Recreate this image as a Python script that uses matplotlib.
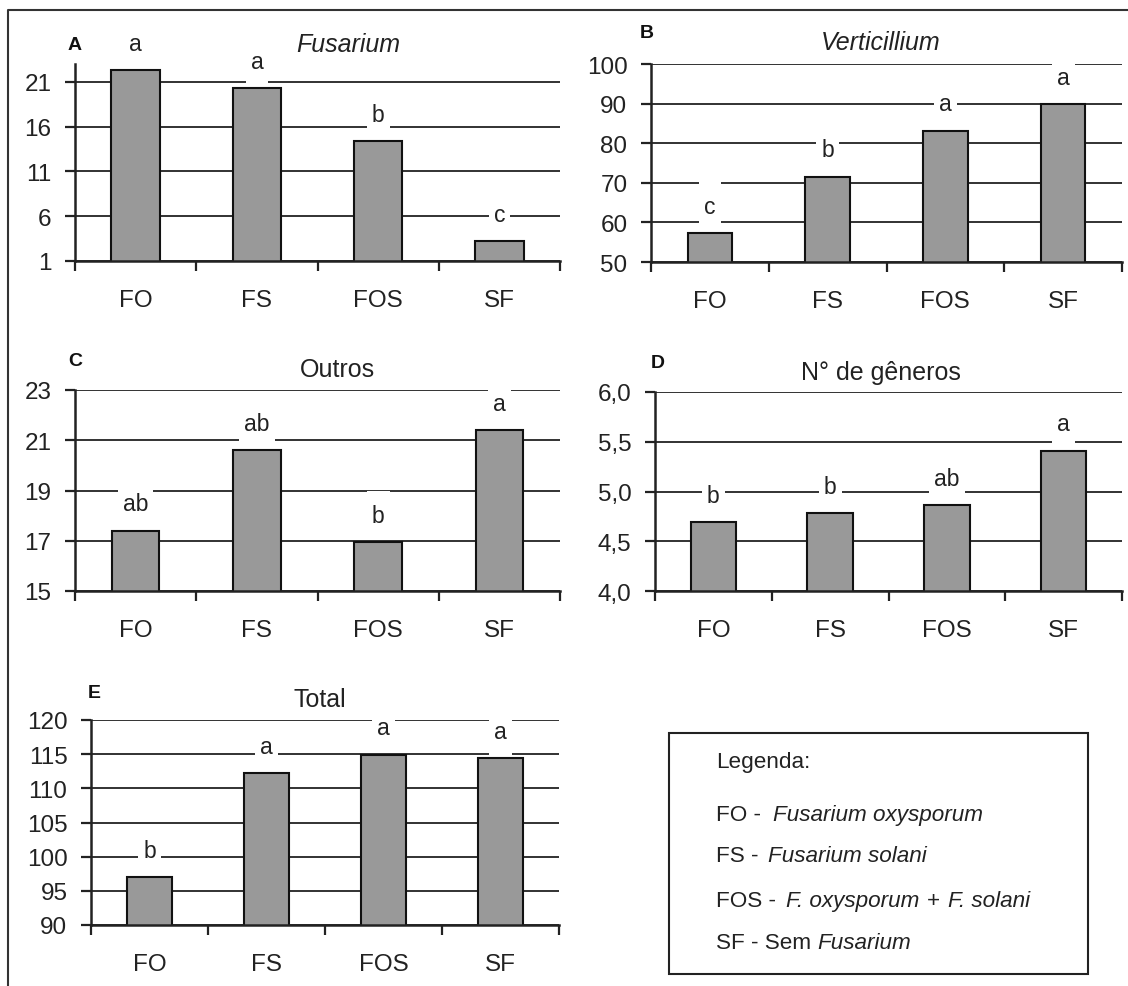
import matplotlib.pyplot as plt
from matplotlib.patches import Rectangle
from matplotlib.lines import Line2D
from matplotlib.transforms import IdentityTransform

plt.rcParams['font.family'] = ['Liberation Sans', 'DejaVu Sans']

W, H = 1128, 987

cats = ['FO', 'FS', 'FOS', 'SF']

fusarium = [22.3, 20.3, 14.4, 3.2]
fusarium_let = ['a', 'a', 'b', 'c']
verticillium = [57.3, 71.5, 83.1, 89.8]
verticillium_let = ['c', 'b', 'a', 'a']
outros = [17.4, 20.6, 16.95, 21.4]
outros_let = ['ab', 'ab', 'b', 'a']
generos = [4.69, 4.78, 4.86, 5.41]
generos_let = ['b', 'b', 'ab', 'a']
total = [97.0, 112.2, 114.9, 114.4]
total_let = ['b', 'a', 'a', 'a']

ticks_a = [1, 6, 11, 16, 21]
ticks_b = [50, 60, 70, 80, 90, 100]
ticks_c = [15, 17, 19, 21, 23]
ticks_d = [4.0, 4.5, 5.0, 5.5, 6.0]
ticks_e = [90, 95, 100, 105, 110, 115, 120]

TXT = '#222222'


def fx(x):
    return x / W


def fy(y):
    return 1 - y / H


fig = plt.figure(figsize=(W / 100, H / 100), dpi=100)

panels = [
    # box (x0, y0, x1, y1) px, ylim, ticks, labels, values, letters, title, italic, title pos, tag, tag pos, width
    ((75, 65, 560, 262), (1, 23), ticks_a, [str(t) for t in ticks_a], fusarium, fusarium_let,
     'Fusarium', True, (348, 45), 'A', (68, 46), 0.40),
    ((651, 65, 1122, 263), (50, 100), ticks_b, [str(t) for t in ticks_b], verticillium, verticillium_let,
     'Verticillium', True, (881, 43), 'B', (640, 34), 0.38),
    ((75, 391, 560, 592), (15, 23), ticks_c, [str(t) for t in ticks_c], outros, outros_let,
     'Outros', False, (337, 370), 'C', (68, 362), 0.39),
    ((655, 393, 1122, 592), (4, 6), ticks_d, [('%.1f' % t).replace('.', ',') for t in ticks_d], generos, generos_let,
     'N° de gêneros', False, (881, 373), 'D', (651, 363), 0.39),
    ((91, 721, 559, 926), (90, 120), ticks_e, [str(t) for t in ticks_e], total, total_let,
     'Total', False, (320, 700), 'E', (88, 693), 0.38),
]

letter_texts = []
for box, ylim, ticks, tlabels, vals, lets, title, ital, tpos, tag, tagpos, bw in panels:
    x0, y0, x1, y1 = box
    ax = fig.add_axes([fx(x0), fy(y1), (x1 - x0) / W, (y1 - y0) / H])
    ax.set_xlim(-0.5, 3.5)
    ax.set_ylim(*ylim)
    ax.set_axisbelow(True)
    ax.bar(range(len(cats)), vals, width=bw, color='#999999', edgecolor='#111111', linewidth=1.5, zorder=1)
    ax.set_yticks(ticks)
    ax.set_yticklabels(tlabels)
    ax.yaxis.grid(True, color='#222222', linewidth=1.3)
    ax.set_xticks(range(len(cats)))
    ax.set_xticklabels(cats)
    ax.set_xticks([-0.5, 0.5, 1.5, 2.5, 3.5], minor=True)
    ax.tick_params(axis='x', which='major', length=0, pad=20, labelsize=17.5, labelcolor=TXT)
    ax.tick_params(axis='x', which='minor', length=7, width=1.6, color='#222222', direction='out')
    ax.tick_params(axis='y', length=7, width=1.6, color='#222222', pad=10, labelsize=17.5, labelcolor=TXT)
    for s in ['top', 'right']:
        ax.spines[s].set_visible(False)
    for s in ['left', 'bottom']:
        ax.spines[s].set_color('#222222')
        ax.spines[s].set_linewidth(1.8)
    for i, (v, lab) in enumerate(zip(vals, lets)):
        t = ax.annotate(lab, (i, v), xytext=(0, 27), textcoords='offset pixels',
                        ha='center', va='center', fontsize=16.5, color=TXT, zorder=4)
        letter_texts.append((ax, t))
    fig.text(fx(tpos[0]), fy(tpos[1]), title, ha='center', va='center', fontsize=18,
             style='italic' if ital else 'normal', color=TXT)
    fig.text(fx(tagpos[0]), fy(tagpos[1]), tag, ha='left', va='center', fontsize=14,
             fontweight='bold', color='#111111')

# white boxes behind the significance letters
renderer = fig.canvas.get_renderer()
for ax, t in letter_texts:
    bb = t.get_window_extent(renderer)
    cy = (bb.y0 + bb.y1) / 2
    r = Rectangle((bb.x0 - 5, cy - 24), bb.width + 10, 48, transform=IdentityTransform(),
                  facecolor='white', edgecolor='none', zorder=3, clip_on=False)
    ax.add_artist(r)

# outer frame (cropped on right and bottom)
fig.add_artist(Line2D([fx(8), fx(8), 1], [0, fy(11), fy(11)], transform=fig.transFigure,
                      color='#333333', linewidth=1.5))

# legend box
fig.add_artist(Rectangle((fx(669), fy(975)), (1088 - 669) / W, (975 - 734) / H,
                         transform=fig.transFigure, facecolor='white', edgecolor='#222222', linewidth=1.5))

legend_lines = [
    (763, [('Legenda:', 'normal', 0)]),
    (816, [('FO -', 'normal', 12), ('Fusarium oxysporum', 'italic', 0)]),
    (857, [('FS -', 'normal', 9), ('Fusarium solani', 'italic', 0)]),
    (902, [('FOS -', 'normal', 10), ('F. oxysporum', 'italic', 8), ('+', 'normal', 8), ('F. solani', 'italic', 0)]),
    (944, [('SF - Sem', 'normal', 6), ('Fusarium', 'italic', 0)]),
]
for ly, pieces in legend_lines:
    x = 716
    for txt, st, gap in pieces:
        t = fig.text(fx(x), fy(ly), txt, ha='left', va='center', fontsize=16.2, style=st, color=TXT)
        bb = t.get_window_extent(renderer)
        x += bb.width + gap

fig.savefig('out.png', dpi=100)
